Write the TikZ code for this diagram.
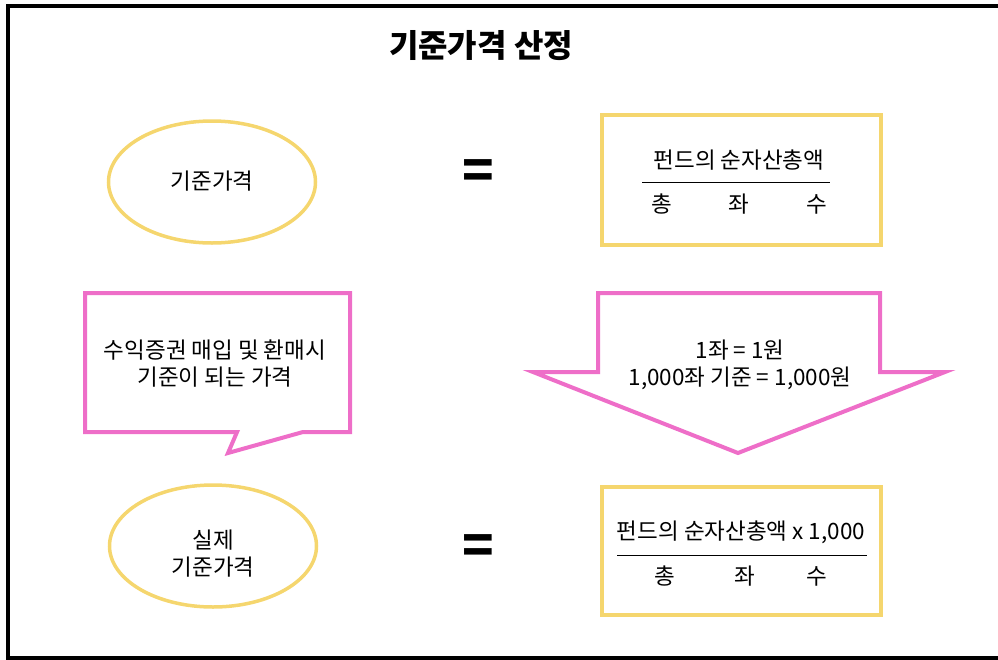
\documentclass[tikz,border=0pt]{standalone}
\usepackage{fontspec}
\setmainfont{Noto Sans CJK KR}
\usetikzlibrary{shapes.geometric}
\definecolor{ylw}{RGB}{245,214,110}
\definecolor{pnk}{RGB}{238,110,200}
\tikzset{
  txt/.style={inner sep=0pt, font=\fontsize{22.5}{26}\selectfont, text=black},
  ttl/.style={inner sep=0pt, font=\fontsize{32}{36}\selectfont\bfseries},
  eqs/.style={inner sep=0pt, font=\fontsize{52}{56}\selectfont\bfseries},
  yell/.style={ellipse, draw=ylw, line width=3.5pt, inner sep=0pt},
  ybox/.style={draw=ylw, line width=4pt, inner sep=0pt},
  pinkline/.style={draw=pnk, line width=4pt, line join=miter, fill=white},
  fracline/.style={draw=black, line width=1pt}
}
\begin{document}
\begin{tikzpicture}[x=1pt,y=-1pt]
\useasboundingbox (0,0) rectangle (998,659);
% frame
\draw[line width=4pt] (1010,6) -- (8,6) -- (8,658) -- (1010,658);
% title
\node[ttl] (title) at (481,46) {기준가격 산정};
% row 1
\node[yell, minimum width=207, minimum height=122] (e1) at (212,182) {};
\node[txt] (e1t) at (212,181) {기준가격};
\node[eqs] (eq1) at (478,175) {=};
\node[ybox, minimum width=279, minimum height=130] (b1) at (741.5,180) {};
\node[txt] (n1) at (739,160) {펀드의 순자산총액};
\coordinate (l1a) at (642,182);
\coordinate (l1b) at (830,182);
\draw[fracline] (l1a) -- (l1b);
\node[txt] (d1a) at (662,204) {총};
\node[txt] (d1b) at (739,204) {좌};
\node[txt] (d1c) at (817,204) {수};
% speech bubble
\draw[pinkline] (85,293) -- (350,293) -- (350,432) -- (303,432) -- (228,453) -- (237,432) -- (85,432) -- cycle;
\node[txt] (s1) at (215,350) {수익증권 매입 및 환매시};
\node[txt] (s2) at (215,377) {기준이 되는 가격};
% down arrow
\draw[pinkline] (598,293) -- (880,293) -- (880,372) -- (945,372) -- (738,453) -- (533,372) -- (598,372) -- cycle;
\node[txt] (a1) at (740,350) {1좌 = 1원};
\node[txt] (a2) at (740,378) {1,000좌 기준 = 1,000원};
% row 2
\node[yell, minimum width=207, minimum height=122] (e2) at (213,546) {};
\node[txt] (e2a) at (213,540) {실제};
\node[txt] (e2b) at (213,567) {기준가격};
\node[eqs] (eq2) at (478,550) {=};
\node[ybox, minimum width=279, minimum height=128] (b2) at (741.5,551) {};
\node[txt] (n2) at (741,532) {펀드의 순자산총액 x 1,000};
\coordinate (l2a) at (617,555);
\coordinate (l2b) at (867,555);
\draw[fracline] (l2a) -- (l2b);
\node[txt] (d2a) at (665,576) {총};
\node[txt] (d2b) at (745,576) {좌};
\node[txt] (d2c) at (817,576) {수};
\end{tikzpicture}
\end{document}
